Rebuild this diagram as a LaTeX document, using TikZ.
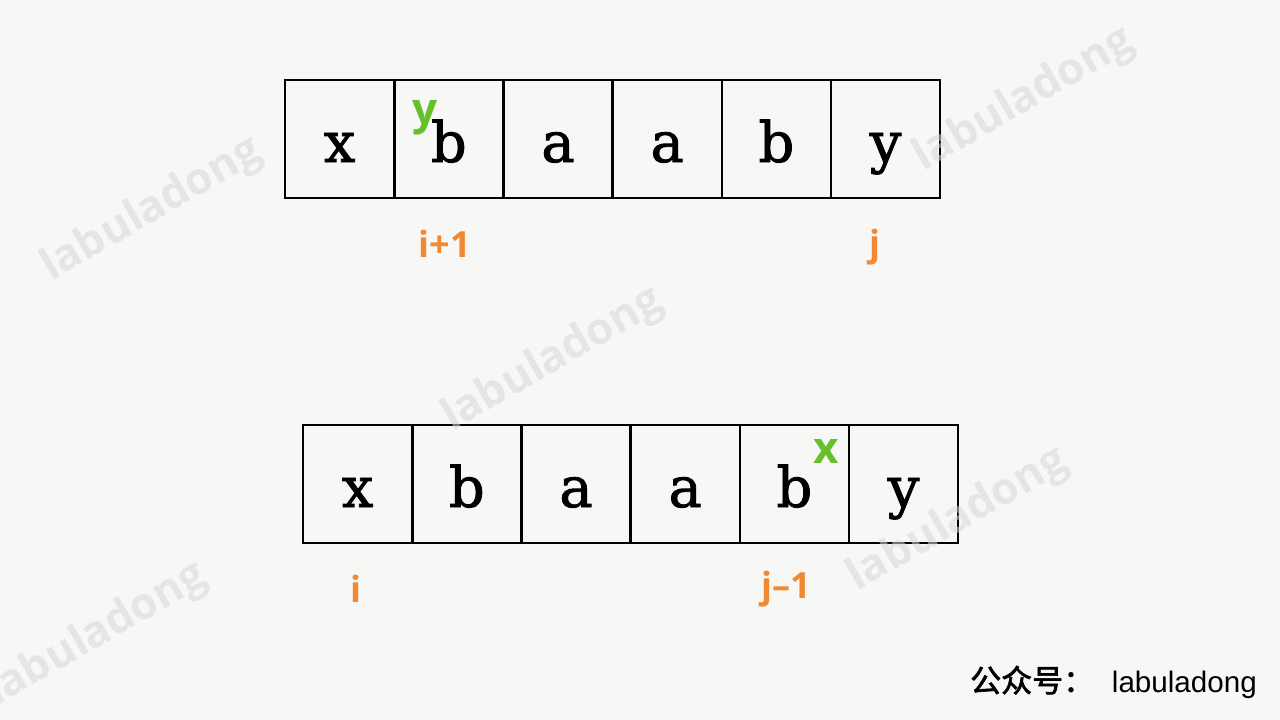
\documentclass[tikz,border=0pt]{standalone}
\usepackage{fontspec}
\setmainfont{DejaVu Serif}
\newfontfamily\cellfont[FakeBold=1.5]{DejaVu Serif}
\newfontfamily\lblfont{Open Sans}
\newfontfamily\wmfont{Open Sans}
\newfontfamily\arialfont{Liberation Sans}
\newfontfamily\cjkfont[FakeBold=2]{Noto Sans CJK SC}
\definecolor{bg}{HTML}{F7F7F5}
\definecolor{wm}{HTML}{D8D8D6}
\definecolor{lblorange}{HTML}{F08A32}
\definecolor{mkgreen}{HTML}{66C02A}
\tikzset{
  cell/.style={draw=black, line width=2.4pt, minimum width=109pt, minimum height=118pt,
    inner sep=0pt, text height=50pt, text depth=4pt, font=\cellfont\fontsize{56}{60}\selectfont},
  idx/.style={text=lblorange, font=\lblfont\bfseries\fontsize{36}{40}\selectfont, anchor=base, inner sep=0pt},
  gmark/.style={text=mkgreen, font=\lblfont\bfseries\fontsize{44}{46}\selectfont, inner sep=0pt},
  water/.style={text=wm, text opacity=0.55, font=\wmfont\bfseries\fontsize{44}{46}\selectfont, rotate=30, inner sep=0pt}
}
\begin{document}
\begin{tikzpicture}[x=1pt,y=-1pt]
\fill[bg] (0,0) rectangle (1280,720);
\useasboundingbox (0,0) rectangle (1280,720);
% top array
\node[cell] (t1) at (339.6,139) {x};
\node[cell] (t2) at (448.8,139) {b};
\node[cell] (t3) at (558.0,139) {a};
\node[cell] (t4) at (667.2,139) {a};
\node[cell] (t5) at (776.4,139) {b};
\node[cell] (t6) at (885.6,139) {y};
\node[gmark] (gy) at (425,118) {y};
\node[idx] (li1) at (445,257) {i+1};
\node[idx] (lj) at (875,256) {j};
% bottom array
\node[cell] (b1) at (357.6,484) {x};
\node[cell] (b2) at (466.8,484) {b};
\node[cell] (b3) at (576.0,484) {a};
\node[cell] (b4) at (685.2,484) {a};
\node[cell] (b5) at (794.4,484) {b};
\node[cell] (b6) at (903.6,484) {y};
\node[gmark] (gx) at (826,451) {x};
\node[idx] (li) at (356,602) {i};
\node[idx] (lj1) at (786,598) {j–1};
% signature
\node[anchor=base west, inner sep=0pt, font=\cjkfont\fontsize{31}{32}\selectfont] (sig) at (970,692) {公众号：};
\node[anchor=base east, inner sep=0pt, font=\arialfont\fontsize{29.6}{30}\selectfont] (sig2) at (1257,692) {labuladong};
% watermarks (on top)
\node[water] (w1) at (152,210) {labuladong};
\node[water] (w2) at (553,360) {labuladong};
\node[water] (w3) at (1024,100) {labuladong};
\node[water] (w4) at (958,520) {labuladong};
\node[water] (w5) at (97,635) {labuladong};
\end{tikzpicture}
\end{document}
